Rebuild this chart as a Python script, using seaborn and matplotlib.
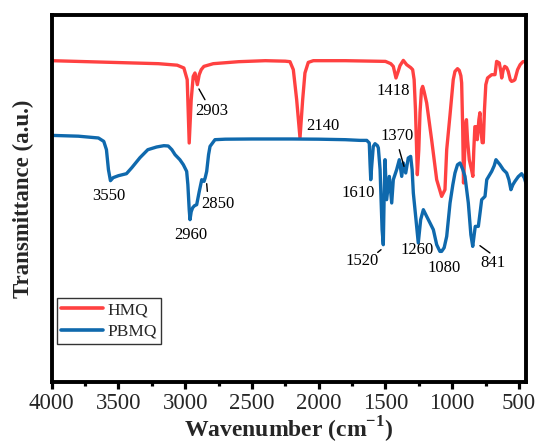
import numpy as np
import pandas as pd
import matplotlib
matplotlib.use("Agg")
import matplotlib.pyplot as plt
import seaborn as sns
from matplotlib.ticker import MultipleLocator

# ---- data (wavenumber in cm^-1, transmittance in arbitrary units) ----
hmq_wn = [4000, 3600, 3200, 3060, 3010, 2985, 2970, 2955, 2940, 2927, 2909, 2895, 2880, 2860,
          2790, 2600, 2400, 2250, 2215, 2190, 2165, 2140, 2120, 2103, 2078, 2040, 1800, 1500,
          1460, 1441, 1421, 1405, 1391, 1366, 1341, 1310, 1296, 1285, 1275, 1261, 1250, 1241,
          1230, 1221, 1210, 1191, 1154, 1116, 1079, 1054, 1041, 1016, 992, 979, 960, 947, 935,
          929, 921, 915, 908, 900, 893, 885, 872, 855, 845, 838, 830, 822, 812, 800, 792, 785,
          775, 767, 758, 748, 735, 704, 679, 667, 647, 635, 629, 617, 606, 592, 580, 565, 555,
          540, 530, 510, 491, 470, 448]
hmq_t = [321, 319.5, 318, 316.5, 313.7, 302, 238.7, 282, 305.3, 308.7, 297, 307, 312, 315.3,
         318, 320, 321, 320.5, 320, 312, 282, 243.7, 282, 308.7, 319.3, 321, 321, 320.3,
         318, 315.3, 303.7, 310, 316, 321.3, 317, 314, 312, 302, 272, 207, 232, 269,
         292, 295.3, 290, 278.7, 242, 202, 185.3, 192, 232, 267, 302, 310.3, 313, 311.3, 306,
         298.7, 252, 198.7, 222, 257, 262, 242, 222, 212, 205.3, 232, 255, 255, 242, 262, 269, 252,
         239, 239, 272, 297, 303.7, 307, 307, 320.3, 318.7, 310, 303.7, 312, 315.3, 314, 310.3, 302, 300.3,
         301, 302, 312, 317, 320, 320.3]

pbmq_wn = [4000, 3800, 3650, 3610, 3590, 3575, 3560, 3540, 3500, 3440, 3400, 3339, 3280, 3214,
           3160, 3127, 3100, 3076, 3040, 3014, 2989, 2980, 2970, 2964, 2955, 2944, 2930, 2914,
           2895, 2876, 2859, 2850, 2839, 2825, 2814, 2777, 2700, 2500, 2200, 2000, 1800, 1690,
           1640, 1621, 1615, 1610, 1603, 1591, 1578, 1560, 1553, 1540, 1536, 1525, 1516, 1510,
           1503, 1491, 1471, 1453, 1441, 1416, 1396, 1378, 1366, 1348, 1329, 1311, 1300, 1291,
           1271, 1254, 1236, 1216, 1191, 1166, 1141, 1116, 1092, 1079, 1060, 1041, 1016, 995,
           979, 960, 941, 920, 904, 879, 860, 846, 835, 827, 804, 790, 779, 754, 741, 704, 685,
           672, 660, 642, 617, 592, 575, 560, 545, 530, 505, 480, 460, 448]
pbmq_t = [246.3, 245.5, 243.7, 240.3, 232, 212, 201, 204, 206, 208, 214, 224, 232, 234.7,
          236, 235.7, 232, 227, 222, 217, 210.3, 197, 172, 162, 170, 174, 176, 177,
          190, 202, 200.3, 204, 210.3, 227, 235.3, 242, 242.5, 242.7, 242.7, 242.5, 242, 241.3,
          241.3, 238.7, 217, 202, 215.3, 235.3, 238, 236, 233.7, 212, 195.3, 152, 137, 182,
          222, 182, 205.3, 178.7, 202, 212, 222, 205.3, 218.7, 208.7, 223.7, 225.3, 212, 188.7,
          162, 138.7, 162, 172, 165.3, 158.7, 152, 137, 130.3, 130.3, 134, 145.3, 178.7, 197,
          208.7, 217, 218.7, 212, 205.3, 178.7, 147, 135.3, 147, 155.3, 155.3, 170, 182, 185.3, 202, 210.3, 216,
          222, 220, 217, 212, 208.7, 202, 192, 197, 200.3, 205, 208, 204, 198.7]

series_names = ["HMQ", "PBMQ"]
series_colors = ["#FF4141", "#0F69AD"]

peak_labels = ["2903", "2140", "1418", "3550", "2960", "2850", "1610", "1370", "1520", "1260", "1080", "841"]
label_x = [2799, 1970, 1444, 3569, 2960, 2752, 1703, 1411, 1673, 1262, 1064, 692]
label_y = [271, 256, 290.3, 185.7, 147, 177.7, 188.7, 245.3, 120.3, 132, 113.7, 119]
# leader lines: (x0, y0, x1, y1)
leader_lines = [(2897, 292.7, 2852, 282), (2839, 198, 2834, 190.3), (1396, 232, 1361, 215.3),
                (1558, 129.3, 1533, 132), (792, 136, 717, 128.7)]

df = pd.concat([
    pd.DataFrame({"Wavenumber": hmq_wn, "T": hmq_t, "Sample": series_names[0]}),
    pd.DataFrame({"Wavenumber": pbmq_wn, "T": pbmq_t, "Sample": series_names[1]}),
])

sns.set_style("white")
plt.rcParams["font.family"] = ["Liberation Serif", "DejaVu Serif"]
plt.rcParams["mathtext.fontset"] = "custom"
plt.rcParams["mathtext.rm"] = "Liberation Serif"
plt.rcParams["mathtext.bf"] = "Liberation Serif:bold"

fig = plt.figure(figsize=(5.37, 4.46), dpi=100)
ax = fig.add_axes([0.0963, 0.1442, 0.8832, 0.8222])

sns.lineplot(data=df, x="Wavenumber", y="T", hue="Sample", palette=series_colors,
             estimator=None, sort=False, linewidth=2.4, ax=ax)

ax.set_xlim(4000, 447)
ax.set_ylim(0, 366.7)
ax.xaxis.set_major_locator(MultipleLocator(500))
ax.xaxis.set_minor_locator(MultipleLocator(250))
ax.set_yticks([])
ax.tick_params(axis="x", which="major", direction="out", length=5, width=2.3,
               labelsize=16.5, pad=3, bottom=True, top=False, color="black")
ax.tick_params(axis="x", which="minor", direction="out", length=2.8, width=2.3,
               bottom=True, top=False, color="black")
for s in ax.spines.values():
    s.set_linewidth(2.8)
    s.set_color("black")

ax.set_xlabel(r"Wavenumber (cm$^{\mathbf{-1}}$)", fontsize=17, fontweight="bold", labelpad=1)
ax.set_ylabel("Transmittance (a.u.)", fontsize=16.5, fontweight="bold", labelpad=13)

for txt, x, y in zip(peak_labels, label_x, label_y):
    ax.text(x, y, txt, fontsize=12, ha="center", va="center", color="black")
for x0, y0, x1, y1 in leader_lines:
    ax.plot([x0, x1], [y0, y1], color="black", linewidth=1.0)

leg = ax.legend(loc="upper left", bbox_to_anchor=(0.011, 0.229), borderaxespad=0,
                fontsize=12.5, frameon=True, fancybox=False, handlelength=2.4,
                handletextpad=0.25, borderpad=0.25, labelspacing=0.32)
leg.get_frame().set_edgecolor("black")
leg.get_frame().set_linewidth(1.0)
for line in leg.get_lines():
    line.set_linewidth(2.6)

fig.savefig("out.png", dpi=100)
